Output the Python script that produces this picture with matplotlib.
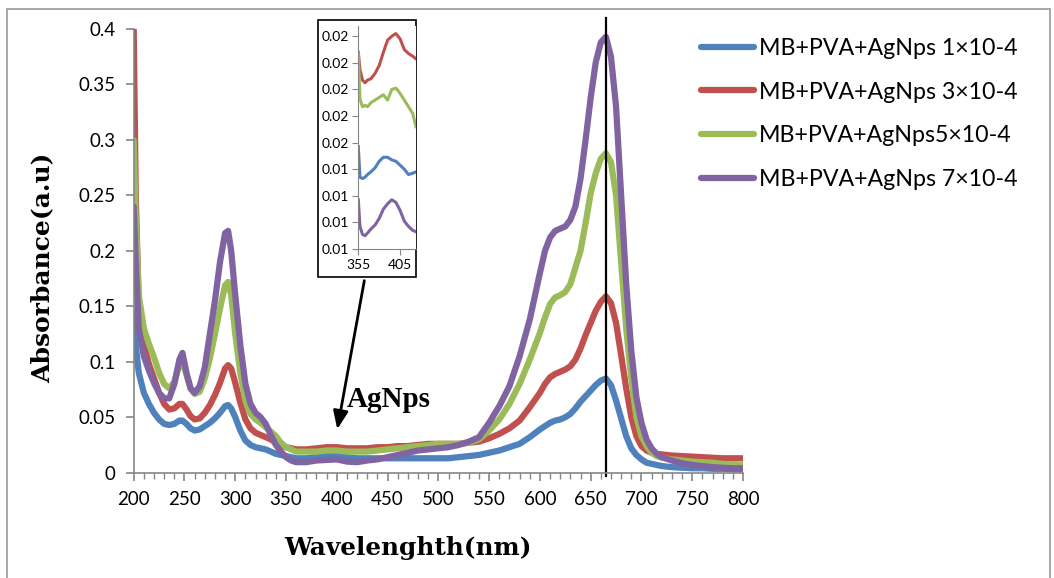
import numpy as np
import matplotlib.pyplot as plt
from matplotlib.patches import Rectangle
from matplotlib.ticker import MultipleLocator, StrMethodFormatter

# wavelength grid (nm)
wl = [200, 202, 205, 210, 215, 220, 225, 230, 235, 240, 245, 248, 252, 256, 260,
      265, 270, 275, 280, 285, 290, 293, 296, 300, 305, 310, 315, 320, 325, 330,
      335, 340, 345, 350, 355, 360, 370, 380, 390, 400, 410, 420, 430, 440, 450,
      460, 470, 480, 490, 500, 510, 520, 530, 540, 550, 560, 570, 580, 590, 600,
      605, 610, 615, 620, 625, 630, 635, 640, 645, 650, 655, 660, 665, 670, 675,
      680, 685, 690, 695, 700, 705, 710, 715, 720, 730, 740, 750, 760, 770, 780,
      790, 800]

abs_1 = [0.145, 0.115, 0.090, 0.072, 0.062, 0.054, 0.048, 0.044, 0.043, 0.044,
         0.047, 0.047, 0.044, 0.040, 0.038, 0.039, 0.042, 0.045, 0.049, 0.054,
         0.060, 0.061, 0.058, 0.050, 0.038, 0.029, 0.025, 0.023, 0.022, 0.021,
         0.019, 0.017, 0.016, 0.015, 0.014, 0.013, 0.013, 0.014, 0.015, 0.015,
         0.014, 0.013, 0.013, 0.013, 0.013, 0.013, 0.013, 0.013, 0.013, 0.013,
         0.013, 0.014, 0.015, 0.016, 0.018, 0.020, 0.023, 0.026, 0.032, 0.039,
         0.042, 0.045, 0.047, 0.048, 0.050, 0.053, 0.058, 0.064, 0.069, 0.074,
         0.079, 0.083, 0.085, 0.079, 0.065, 0.049, 0.033, 0.022, 0.016, 0.012,
         0.009, 0.008, 0.007, 0.006, 0.005, 0.0045, 0.004, 0.004, 0.0035, 0.0035,
         0.003, 0.003]

abs_3 = [0.400, 0.250, 0.150, 0.115, 0.098, 0.085, 0.072, 0.062, 0.057, 0.058,
         0.062, 0.062, 0.057, 0.051, 0.048, 0.049, 0.054, 0.061, 0.070, 0.081,
         0.094, 0.097, 0.094, 0.081, 0.063, 0.048, 0.040, 0.036, 0.034, 0.032,
         0.030, 0.027, 0.025, 0.023, 0.022, 0.021, 0.021, 0.022, 0.023, 0.023,
         0.022, 0.022, 0.022, 0.023, 0.023, 0.024, 0.024, 0.025, 0.026, 0.026,
         0.026, 0.026, 0.027, 0.028, 0.031, 0.035, 0.040, 0.047, 0.059, 0.072,
         0.080, 0.086, 0.089, 0.091, 0.093, 0.096, 0.102, 0.112, 0.124, 0.135,
         0.146, 0.154, 0.159, 0.153, 0.135, 0.106, 0.076, 0.050, 0.033, 0.024,
         0.020, 0.018, 0.017, 0.0165, 0.0155, 0.015, 0.0145, 0.014, 0.0135, 0.013,
         0.013, 0.013]

abs_5 = [0.300, 0.230, 0.160, 0.130, 0.116, 0.104, 0.090, 0.080, 0.076, 0.082,
         0.097, 0.100, 0.088, 0.076, 0.071, 0.073, 0.085, 0.103, 0.125, 0.148,
         0.169, 0.172, 0.160, 0.125, 0.090, 0.065, 0.053, 0.048, 0.045, 0.041,
         0.037, 0.033, 0.027, 0.023, 0.021, 0.019, 0.019, 0.019, 0.020, 0.020,
         0.019, 0.019, 0.019, 0.020, 0.021, 0.022, 0.023, 0.024, 0.025, 0.026,
         0.026, 0.026, 0.027, 0.030, 0.038, 0.048, 0.062, 0.080, 0.102, 0.126,
         0.140, 0.152, 0.158, 0.160, 0.163, 0.170, 0.185, 0.200, 0.225, 0.252,
         0.270, 0.283, 0.288, 0.280, 0.250, 0.190, 0.130, 0.085, 0.050, 0.033,
         0.024, 0.018, 0.015, 0.0135, 0.012, 0.011, 0.010, 0.0095, 0.009, 0.008,
         0.0075, 0.007]

abs_7 = [0.240, 0.190, 0.130, 0.105, 0.092, 0.081, 0.072, 0.067, 0.067, 0.080,
         0.102, 0.108, 0.090, 0.076, 0.072, 0.078, 0.095, 0.125, 0.155, 0.190,
         0.216, 0.218, 0.200, 0.160, 0.115, 0.080, 0.062, 0.054, 0.050, 0.044,
         0.034, 0.025, 0.019, 0.014, 0.011, 0.0095, 0.0095, 0.011, 0.0115, 0.012,
         0.010, 0.0095, 0.011, 0.012, 0.014, 0.016, 0.018, 0.020, 0.021, 0.022,
         0.023, 0.025, 0.028, 0.032, 0.045, 0.060, 0.078, 0.105, 0.138, 0.180,
         0.200, 0.212, 0.218, 0.220, 0.222, 0.228, 0.240, 0.265, 0.300, 0.338,
         0.370, 0.388, 0.393, 0.375, 0.330, 0.250, 0.170, 0.110, 0.068, 0.045,
         0.030, 0.022, 0.017, 0.014, 0.011, 0.0085, 0.007, 0.006, 0.005, 0.0045,
         0.004, 0.004]

# zoomed AgNps band (inset)
wl_in = [355, 357, 360, 363, 366, 370, 375, 380, 385, 390, 395, 400, 405, 410,
         415, 420, 424]
in_1 = [0.0157, 0.0134, 0.0133, 0.0134, 0.0136, 0.0138, 0.0141, 0.0146, 0.0149,
        0.0149, 0.0147, 0.0146, 0.0143, 0.0140, 0.0136, 0.0137, 0.0138]
in_3 = [0.0228, 0.0215, 0.0207, 0.0205, 0.0207, 0.0208, 0.0212, 0.0218, 0.0228,
        0.0237, 0.0240, 0.0242, 0.0238, 0.0230, 0.0227, 0.0225, 0.0223]
in_5 = [0.0227, 0.0193, 0.0187, 0.0188, 0.0187, 0.0190, 0.0192, 0.0194, 0.0196,
        0.0192, 0.0200, 0.0201, 0.0197, 0.0192, 0.0187, 0.0182, 0.0172]
in_7 = [0.0117, 0.0097, 0.0091, 0.0090, 0.0092, 0.0095, 0.0098, 0.0103, 0.0110,
        0.0114, 0.0117, 0.0115, 0.0109, 0.0101, 0.0097, 0.0094, 0.0093]

labels = ['MB+PVA+AgNps 1×10-4', 'MB+PVA+AgNps 3×10-4',
          'MB+PVA+AgNps5×10-4', 'MB+PVA+AgNps 7×10-4']
colors = ['#4F81BD', '#C0504D', '#9BBB59', '#8064A2']
yticks = [0, 0.05, 0.1, 0.15, 0.2, 0.25, 0.3, 0.35, 0.4]
ytick_labels = ['0', '0.05', '0.1', '0.15', '0.2', '0.25', '0.3', '0.35', '0.4']
xticks = [200, 250, 300, 350, 400, 450, 500, 550, 600, 650, 700, 750, 800]
peak_wl = 665.5

W, H = 1054, 578
fig = plt.figure(figsize=(W / 100, H / 100), dpi=100)
grey = '#868686'
sans = 'Lato'

# chart border
fig.patches.append(Rectangle((7 / W, -0.01), (1050 - 7) / W, 1.01 - 9 / H,
                             transform=fig.transFigure, fill=False,
                             edgecolor='#9a9a9a', lw=1.2))

ax = fig.add_axes([133.7 / W, (H - 472.7) / H, (743 - 133.7) / W, (472.7 - 29) / H])
for y, c, lab in zip([abs_1, abs_3, abs_5, abs_7], colors, labels):
    ax.plot(wl, y, color=c, lw=4.5, label=lab, solid_capstyle='round',
            solid_joinstyle='round')

ax.plot([peak_wl, peak_wl], [-0.003, 0.41], color='black', lw=1.6, clip_on=False)

ax.set_xlim(200, 800)
ax.set_ylim(0, 0.4)
ax.set_xticks(xticks)
ax.xaxis.set_minor_locator(MultipleLocator(10))
ax.set_yticks(yticks)
ax.set_yticklabels(ytick_labels)
for s in ['top', 'right']:
    ax.spines[s].set_visible(False)
for s in ['left', 'bottom']:
    ax.spines[s].set_color(grey)
    ax.spines[s].set_linewidth(1.2)
ax.tick_params(axis='both', which='major', color=grey, length=6, width=1.2,
               labelsize=13.5, pad=7)
ax.tick_params(axis='x', which='minor', color=grey, length=4, width=1)
for t in ax.get_xticklabels() + ax.get_yticklabels():
    t.set_fontfamily(sans)

fig.text(408 / W, 1 - 548 / H, 'Wavelenghth(nm)', ha='center', va='center',
         fontsize=17.8, fontweight='bold', family='DejaVu Serif')
fig.text(42 / W, 1 - 268 / H, 'Absorbance(a.u)', ha='center', va='center',
         rotation=90, fontsize=18, fontweight='bold', family='DejaVu Serif')

leg = fig.legend(loc='upper left', bbox_to_anchor=(680 / W, 1 - 17 / H),
                 frameon=False, prop={'family': sans, 'size': 16.7},
                 handlelength=2.3, handletextpad=0.2, labelspacing=0.98)
for h in leg.get_lines():
    h.set_linewidth(4.5)

# arrow + label
ax.annotate('', xy=(400, 0.0367), xytext=(427.6, 0.1756),
            arrowprops=dict(arrowstyle='-|>,head_length=1.1,head_width=0.45',
                            color='black', lw=2))
ax.text(410, 0.066, 'AgNps', fontsize=21, fontweight='bold',
        family='Liberation Serif', va='center', ha='left')

# inset
fig.patches.append(Rectangle((318 / W, 1 - 277 / H), (416 - 318) / W, (277 - 20) / H,
                             transform=fig.transFigure, facecolor='white',
                             edgecolor='black', lw=1.2, zorder=5))
axi = fig.add_axes([358.3 / W, 1 - 249 / H, (416 - 358.3) / W, (249 - 25.6) / H],
                   zorder=6)
for y, c in zip([in_1, in_3, in_5, in_7], colors):
    axi.plot(wl_in, y, color=c, lw=2.2)
axi.set_xlim(355, 424)
axi.set_ylim(0.008, 0.0248)
axi.set_yticks(np.arange(0.008, 0.0241, 0.002))
axi.yaxis.set_major_formatter(StrMethodFormatter('{x:.2f}'))
axi.set_xticks([355, 405])
for s in ['top', 'right']:
    axi.spines[s].set_visible(False)
for s in ['left', 'bottom']:
    axi.spines[s].set_color(grey)
axi.tick_params(color=grey, length=4, labelsize=10, pad=3)
for t in axi.get_xticklabels() + axi.get_yticklabels():
    t.set_fontfamily(sans)

fig.savefig('out.png', dpi=100)
